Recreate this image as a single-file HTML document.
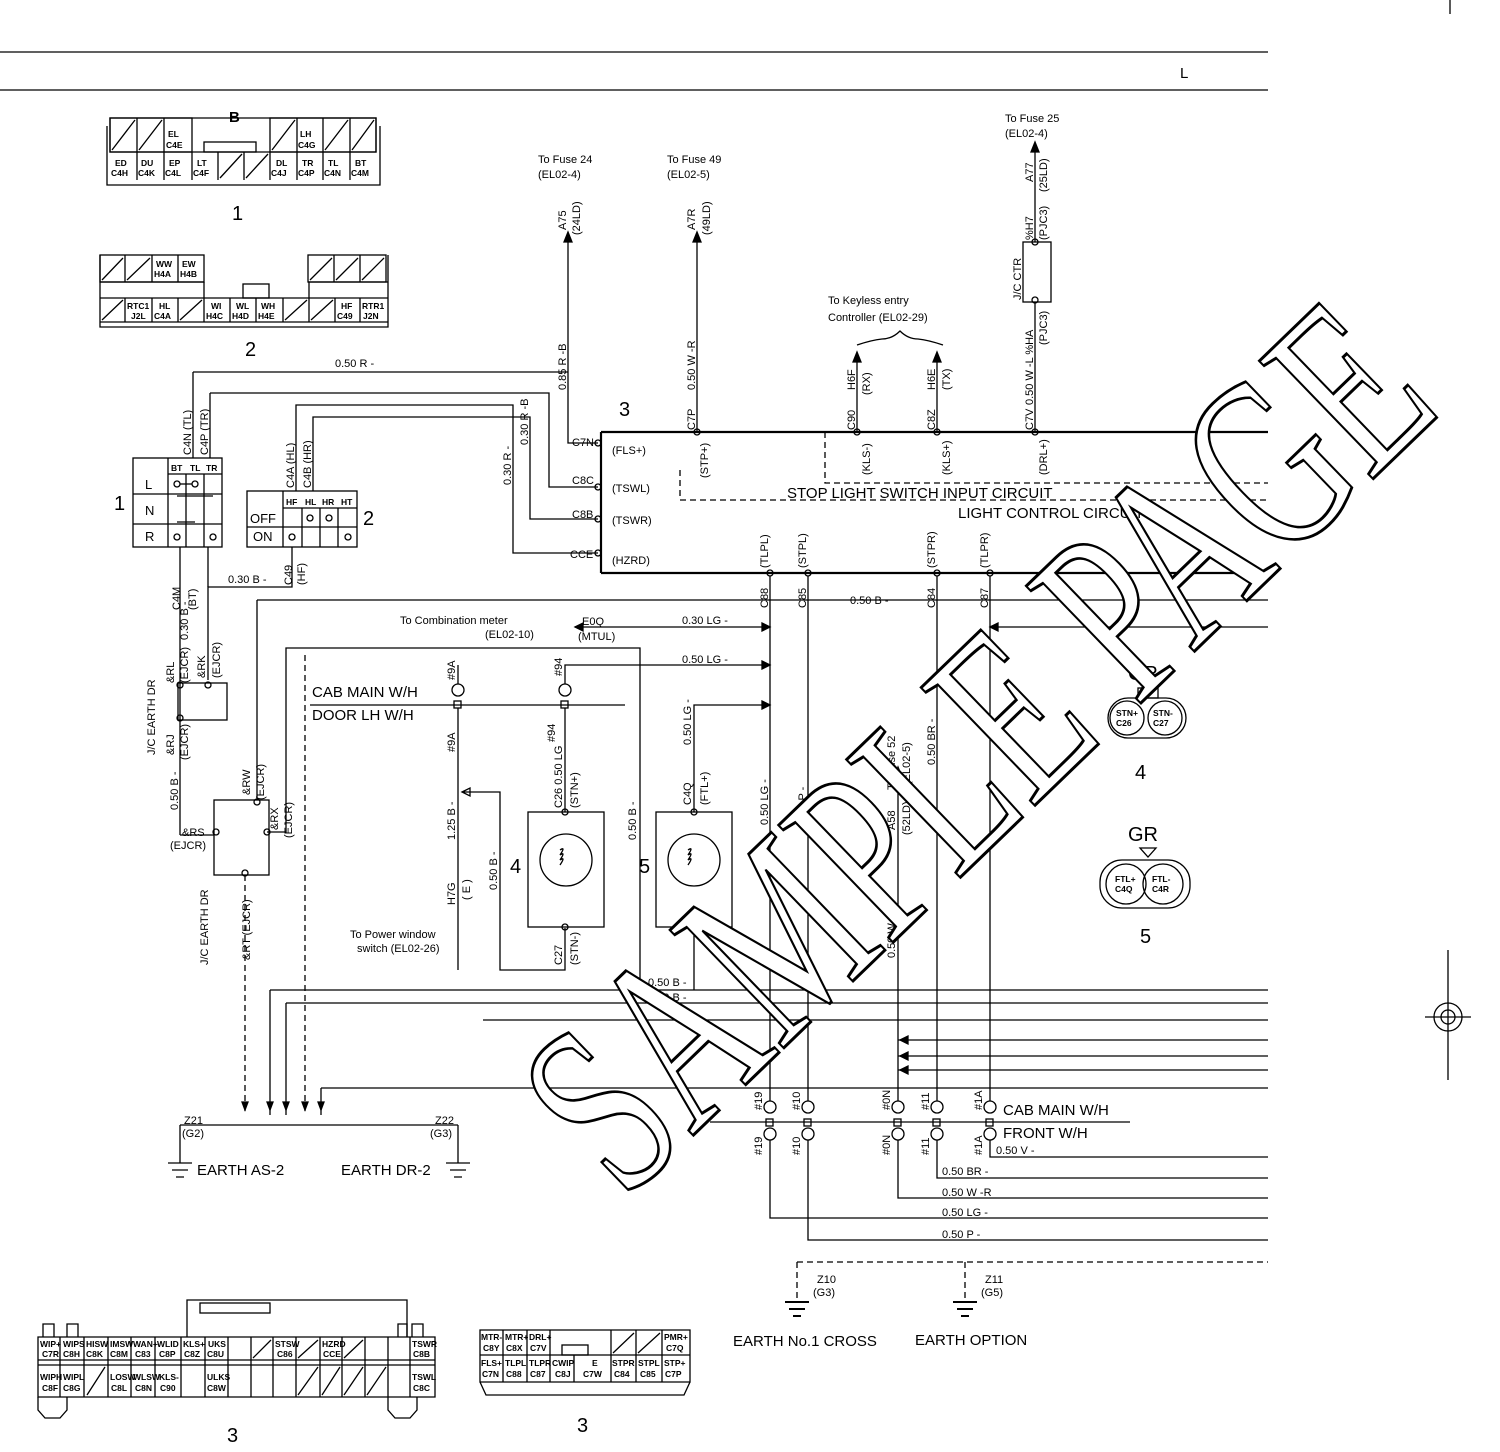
<!DOCTYPE html>
<html><head><meta charset="utf-8"><style>
html,body{margin:0;padding:0;background:#fff}
svg{display:block}
text{font-family:"Liberation Sans",sans-serif;fill:#000}
.s{font-size:11px;font-weight:500}
.t{font-size:8.5px;font-weight:bold}
.m{font-size:15px}
.b{font-size:20px}
</style></head><body>
<svg width="1500" height="1452" viewBox="0 0 1500 1452" xmlns="http://www.w3.org/2000/svg" fill="none" stroke="#000" stroke-width="1.3">
<line x1="0" y1="52" x2="1268" y2="52"/>
<line x1="0" y1="90" x2="1268" y2="90"/>
<line x1="1450" y1="0" x2="1450" y2="14"/>
<text x="1180" y="78" class="m" stroke="none">L</text>

<g>
<text x="229" y="122" class="m" stroke="none" style="font-weight:bold">B</text>
<path d="M110 118 V152 H376 V118 Z M107 126 V185 H380 V126"/>
<rect x="110" y="118" width="82" height="34"/><rect x="270" y="118" width="106" height="34"/>
<path d="M137 118 V180 M164 118 V180 M192 152 V180 M218 152 V180 M244 152 V180 M270 152 V180 M297 118 V180 M323 118 V180 M350 118 V180"/>
<rect x="204" y="142" width="52" height="10"/>
<path d="M112 150 L135 120 M139 150 L162 120 M272 150 L295 120 M325 150 L348 120 M352 150 L374 120 M220 178 L242 154 M246 178 L268 154"/>
<g stroke="none" class="t">
<text x="168" y="137">EL</text><text x="166" y="148">C4E</text>
<text x="300" y="137">LH</text><text x="298" y="148">C4G</text>
<text x="115" y="166">ED</text><text x="111" y="176">C4H</text>
<text x="141" y="166">DU</text><text x="138" y="176">C4K</text>
<text x="169" y="166">EP</text><text x="165" y="176">C4L</text>
<text x="197" y="166">LT</text><text x="193" y="176">C4F</text>
<text x="276" y="166">DL</text><text x="271" y="176">C4J</text>
<text x="302" y="166">TR</text><text x="298" y="176">C4P</text>
<text x="328" y="166">TL</text><text x="324" y="176">C4N</text>
<text x="355" y="166">BT</text><text x="351" y="176">C4M</text>
</g>
<text x="232" y="220" class="b" stroke="none">1</text>
</g>

<g>
<path d="M100 255 V327 H388 V255 M100 282 H204 M308 282 H388 M100 298 H388 M100 322 H388"/>
<rect x="100" y="255" width="104" height="27"/><rect x="308" y="255" width="78" height="27"/>
<path d="M125 255 V282 M152 255 V282 M178 255 V282 M334 255 V282 M360 255 V282"/>
<path d="M125 298 V322 M152 298 V322 M178 298 V322 M204 282 V322 M230 298 V322 M256 298 V322 M283 298 V322 M309 282 V322 M335 298 V322 M360 298 V322"/>
<rect x="243" y="284" width="26" height="14"/>
<path d="M102 280 L123 258 M127 280 L150 258 M310 280 L332 258 M336 280 L358 258 M362 280 L384 258 M102 320 L123 300 M180 320 L202 300 M285 320 L307 300 M311 320 L333 300"/>
<g stroke="none" class="t">
<text x="156" y="267">WW</text><text x="154" y="277">H4A</text>
<text x="182" y="267">EW</text><text x="180" y="277">H4B</text>
<text x="127" y="309">RTC1</text><text x="131" y="319">J2L</text>
<text x="159" y="309">HL</text><text x="154" y="319">C4A</text>
<text x="211" y="309">WI</text><text x="206" y="319">H4C</text>
<text x="236" y="309">WL</text><text x="232" y="319">H4D</text>
<text x="261" y="309">WH</text><text x="258" y="319">H4E</text>
<text x="341" y="309">HF</text><text x="337" y="319">C49</text>
<text x="362" y="309">RTR1</text><text x="363" y="319">J2N</text>
</g>
<text x="245" y="356" class="b" stroke="none">2</text>
</g>

<rect x="133" y="458" width="89" height="89"/>
<path d="M133 494 H222 M133 524 H222 M168 458 V547 M168 474 H222 M186 474 V547 M204 474 V547"/>
<g stroke="none" class="t"><text x="171" y="471">BT</text><text x="190" y="471">TL</text><text x="206" y="471">TR</text></g>
<g stroke="none" style="font-size:13px"><text x="145" y="489">L</text><text x="145" y="515">N</text><text x="145" y="541">R</text></g>
<text x="114" y="510" class="b" stroke="none">1</text>
<circle cx="177" cy="484" r="3"/><circle cx="195" cy="484" r="3"/><line x1="180" y1="484" x2="192" y2="484"/>
<line x1="177" y1="496" x2="213" y2="496"/><line x1="177" y1="522" x2="195" y2="522"/>
<circle cx="177" cy="537" r="3"/><circle cx="213" cy="537" r="3"/>
<path d="M193 372 V458 M210 393 V458 M180 547 V835 M208 547 V587"/>
<line x1="193" y1="372" x2="568" y2="372"/>
<text x="335" y="367" class="s" stroke="none">0.50 R -</text>
<path d="M210 393 H549 V487 H598"/>
<g class="s" stroke="none">
<text transform="translate(191,455) rotate(-90)">C4N (TL)</text>
<text transform="translate(208,455) rotate(-90)">C4P (TR)</text>
<text transform="translate(180,610) rotate(-90)">C4M</text>
<text transform="translate(196,610) rotate(-90)">(BT)</text>
</g>

<rect x="247" y="491" width="110" height="56"/>
<path d="M247 527 H357 M283 491 V547 M283 508 H357 M302 508 V547 M320 508 V547 M338 508 V547"/>
<g stroke="none" class="t"><text x="286" y="505">HF</text><text x="305" y="505">HL</text><text x="322" y="505">HR</text><text x="341" y="505">HT</text></g>
<g stroke="none" style="font-size:13px"><text x="250" y="523">OFF</text><text x="253" y="541">ON</text></g>
<text x="363" y="525" class="b" stroke="none">2</text>
<circle cx="310" cy="518" r="3"/><circle cx="329" cy="518" r="3"/><circle cx="292" cy="537" r="3"/><circle cx="348" cy="537" r="3"/>
<path d="M296 491 V405 H513 V553 H598 M313 491 V417 H530 V519 H598"/>
<g class="s" stroke="none">
<text transform="translate(294,488) rotate(-90)">C4A (HL)</text>
<text transform="translate(311,488) rotate(-90)">C4B (HR)</text>
<text transform="translate(292,585) rotate(-90)">C49</text>
<text transform="translate(305,585) rotate(-90)">(HF)</text>
<text transform="translate(511,485) rotate(-90)">0.30 R -</text>
<text transform="translate(528,445) rotate(-90)">0.30 R -B</text>
</g>
<path d="M292 547 V587 H208 V680 M257 600 V800"/>
<text x="228" y="583" class="s" stroke="none">0.30 B -</text>

<rect x="178" y="683" width="49" height="37"/>
<circle cx="180" cy="685" r="3"/><circle cx="208" cy="685" r="3"/><circle cx="180" cy="718" r="3"/>
<g class="s" stroke="none">
<text transform="translate(188,640) rotate(-90)">0.30 B -</text>
<text transform="translate(174,683) rotate(-90)">&amp;RL</text>
<text transform="translate(188,683) rotate(-90)">(EJCR)</text>
<text transform="translate(205,678) rotate(-90)">&amp;RK</text>
<text transform="translate(220,678) rotate(-90)">(EJCR)</text>
<text transform="translate(155,755) rotate(-90)">J/C EARTH DR</text>
<text transform="translate(174,755) rotate(-90)">&amp;RJ</text>
<text transform="translate(188,760) rotate(-90)">(EJCR)</text>
<text transform="translate(178,810) rotate(-90)">0.50 B -</text>
<text x="182" y="836">&amp;RS</text><text x="170" y="849">(EJCR)</text>
</g>
<rect x="214" y="800" width="55" height="75"/>
<circle cx="216" cy="832" r="3"/><circle cx="257" cy="802" r="3"/><circle cx="267" cy="832" r="3"/><circle cx="245" cy="873" r="3"/>
<path d="M180 835 H214 M267 832 H286 V648 H640 V990"/>
<g class="s" stroke="none">
<text transform="translate(250,795) rotate(-90)">&amp;RW</text>
<text transform="translate(264,800) rotate(-90)">(EJCR)</text>
<text transform="translate(278,830) rotate(-90)">&amp;RX</text>
<text transform="translate(292,838) rotate(-90)">(EJCR)</text>
<text transform="translate(208,965) rotate(-90)">J/C EARTH DR</text>
<text transform="translate(250,960) rotate(-90)">&amp;RT (EJCR)</text>
</g>
<path d="M245 875 V1115 M305 655 V1115" stroke-dasharray="6,4"/>
<path d="M270 990 V1115 M286 1003 V1115 M321 1088 V1115"/>
<path d="M245 1110 l-3-8 h6 z M270 1110 l-3-8 h6 z M286 1110 l-3-8 h6 z M305 1110 l-3-8 h6 z M321 1110 l-3-8 h6 z" fill="#000"/>
<line x1="180" y1="1125" x2="458" y2="1125"/>
<path d="M180 1125 V1163 M458 1125 V1163"/>
<path d="M168 1163 H192 M172 1170 H188 M176 1177 H184 M446 1163 H470 M450 1170 H466 M454 1177 H462"/>
<g class="s" stroke="none"><text x="184" y="1124">Z21</text><text x="182" y="1137">(G2)</text><text x="435" y="1124">Z22</text><text x="430" y="1137">(G3)</text></g>
<g class="m" stroke="none"><text x="197" y="1175">EARTH  AS-2</text><text x="341" y="1175">EARTH  DR-2</text></g>

<path d="M270 990 H1268 M286 1003 H1268 M483 1020 H1268 M1268 1040 H898 M1268 1056 H898 M1268 1070 H898 M321 1088 H1268"/>
<path d="M900 1040 l8 -4 v8 z M900 1056 l8 -4 v8 z M900 1070 l8 -4 v8 z" fill="#000"/>
<g class="s" stroke="none"><text x="648" y="986">0.50 B -</text><text x="648" y="1001">0.50 B -</text></g>

<path d="M310 705 H625"/>
<g class="m" stroke="none"><text x="312" y="697">CAB MAIN W/H</text><text x="312" y="720">DOOR LH W/H</text></g>
<circle cx="458" cy="690" r="6"/><rect x="454" y="701" width="7" height="7"/>
<circle cx="565" cy="690" r="6"/><rect x="561" y="701" width="7" height="7"/>
<path d="M458 684 V665 M458 708 V970 M565 684 V665 H770 M565 708 V812"/>
<path d="M770 665 l-8 -4 v8 z" fill="#000"/>
<path d="M462 792 H500 V970 H565 V928 M462 792 l8 -4 v8 z"/>
<g class="s" stroke="none">
<text transform="translate(455,680) rotate(-90)">#9A</text>
<text transform="translate(455,752) rotate(-90)">#9A</text>
<text transform="translate(562,676) rotate(-90)">#94</text>
<text transform="translate(555,742) rotate(-90)">#94</text>
<text transform="translate(455,840) rotate(-90)">1.25 B -</text>
<text transform="translate(497,890) rotate(-90)">0.50 B -</text>
<text transform="translate(455,905) rotate(-90)">H7G</text>
<text transform="translate(470,900) rotate(-90)">( E )</text>
<text x="350" y="938">To Power window</text><text x="357" y="952">switch (EL02-26)</text>
<text transform="translate(562,808) rotate(-90)">C26 0.50 LG</text>
<text transform="translate(578,808) rotate(-90)">(STN+)</text>
<text transform="translate(562,965) rotate(-90)">C27</text>
<text transform="translate(578,965) rotate(-90)">(STN-)</text>
<text transform="translate(636,840) rotate(-90)">0.50 B -</text>
<text transform="translate(691,745) rotate(-90)">0.50 LG -</text>
<text transform="translate(691,805) rotate(-90)">C4Q</text>
<text transform="translate(708,805) rotate(-90)">(FTL+)</text>
</g>
<rect x="528" y="812" width="76" height="115"/><circle cx="566" cy="860" r="26"/>
<path d="M560 850 q6 -4 0 5 q6 -4 0 5 q6 -4 0 5"/>
<circle cx="565" cy="812" r="3"/><circle cx="565" cy="927" r="3"/>
<text x="510" y="873" class="b" stroke="none">4</text>
<rect x="656" y="812" width="76" height="115"/><circle cx="694" cy="860" r="26"/>
<path d="M688 850 q6 -4 0 5 q6 -4 0 5 q6 -4 0 5"/>
<circle cx="694" cy="812" r="3"/>
<text x="639" y="873" class="b" stroke="none">5</text>
<path d="M694 812 V705 H770 M694 927 V990"/>
<path d="M770 705 l-8 -4 v8 z" fill="#000"/>

<path d="M575 627 H770 M990 627 H1268"/>
<path d="M575 627 l8 -4 v8 z M770 627 l-8 -4 v8 z M990 627 l8 -4 v8 z" fill="#000"/>
<g class="s" stroke="none">
<text x="400" y="624">To Combination meter</text><text x="485" y="638">(EL02-10)</text>
<text x="582" y="625">E0Q</text><text x="578" y="640">(MTUL)</text>
<text x="682" y="624">0.30 LG -</text><text x="682" y="663">0.50 LG -</text>
</g>

<path d="M601 432 H1268 M601 573 H1268 M601 432 V573" stroke-width="2.2"/>
<text x="619" y="416" class="b" stroke="none">3</text>
<circle cx="598" cy="443" r="3"/><circle cx="598" cy="487" r="3"/><circle cx="598" cy="519" r="3"/><circle cx="598" cy="553" r="3"/>
<g class="s" stroke="none">
<text x="572" y="446">C7N</text><text x="612" y="454">(FLS+)</text>
<text x="572" y="484">C8C</text><text x="612" y="492">(TSWL)</text>
<text x="572" y="518">C8B</text><text x="612" y="524">(TSWR)</text>
<text x="570" y="558">CCE</text><text x="612" y="564">(HZRD)</text>
</g>
<path d="M568 240 V443 H598"/>
<path d="M568 232 l-4 10 h8 z" fill="#000"/>
<path d="M697 240 V432"/><path d="M697 232 l-4 10 h8 z" fill="#000"/>
<circle cx="697" cy="432" r="3"/><circle cx="857" cy="432" r="3"/><circle cx="937" cy="432" r="3"/><circle cx="1035" cy="432" r="3"/>
<path d="M857 432 V360 M937 432 V360 M1035 432 V302"/>
<path d="M857 352 l-4 10 h8 z M937 352 l-4 10 h8 z" fill="#000"/>
<path d="M857 345 q15 -5 25 -6 q10 0 18 -8 q8 8 18 8 q10 1 25 6"/>
<g class="s" stroke="none">
<text x="538" y="163">To Fuse 24</text><text x="538" y="178">(EL02-4)</text>
<text x="667" y="163">To Fuse 49</text><text x="667" y="178">(EL02-5)</text>
<text transform="translate(566,230) rotate(-90)">A75</text>
<text transform="translate(580,235) rotate(-90)">(24LD)</text>
<text transform="translate(695,230) rotate(-90)">A7R</text>
<text transform="translate(710,235) rotate(-90)">(49LD)</text>
<text transform="translate(566,390) rotate(-90)">0.85 R -B</text>
<text transform="translate(695,390) rotate(-90)">0.50 W -R</text>
<text transform="translate(695,430) rotate(-90)">C7P</text>
<text transform="translate(708,478) rotate(-90)">(STP+)</text>
<text x="828" y="304">To Keyless entry</text><text x="828" y="321">Controller (EL02-29)</text>
<text transform="translate(855,390) rotate(-90)">H6F</text>
<text transform="translate(870,395) rotate(-90)">(RX)</text>
<text transform="translate(935,390) rotate(-90)">H6E</text>
<text transform="translate(950,390) rotate(-90)">(TX)</text>
<text transform="translate(855,430) rotate(-90)">C90</text>
<text transform="translate(870,475) rotate(-90)">(KLS-)</text>
<text transform="translate(935,430) rotate(-90)">C8Z</text>
<text transform="translate(950,475) rotate(-90)">(KLS+)</text>
<text transform="translate(1033,430) rotate(-90)">C7V</text>
<text transform="translate(1047,475) rotate(-90)">(DRL+)</text>
<text transform="translate(1033,405) rotate(-90)">0.50 W -L %HA</text>
<text transform="translate(1047,345) rotate(-90)">(PJC3)</text>
<text transform="translate(1033,240) rotate(-90)">%H7</text>
<text transform="translate(1047,240) rotate(-90)">(PJC3)</text>
<text transform="translate(1033,182) rotate(-90)">A77</text>
<text transform="translate(1047,192) rotate(-90)">(25LD)</text>
<text x="1005" y="122">To Fuse 25</text><text x="1005" y="137">(EL02-4)</text>
<text transform="translate(1021,300) rotate(-90)">J/C CTR</text>
</g>
<rect x="1023" y="242" width="28" height="60"/>
<circle cx="1035" cy="242" r="3"/><circle cx="1035" cy="300" r="3"/>
<path d="M1035 242 V150"/><path d="M1035 142 l-4 10 h8 z" fill="#000"/>
<path d="M680 470 V500 H1268 M825 432 V483 H1268" stroke-dasharray="6,4"/>
<g class="m" stroke="none"><text x="787" y="498">STOP LIGHT SWITCH INPUT CIRCUIT</text><text x="958" y="518">LIGHT CONTROL CIRCUIT</text></g>

<circle cx="770" cy="573" r="3"/><circle cx="808" cy="573" r="3"/><circle cx="937" cy="573" r="3"/><circle cx="990" cy="573" r="3"/>
<path d="M770 576 V1101 M808 576 V1101 M937 576 V1101 M990 576 V1101 M898 775 V1101"/>
<path d="M257 600 H1268"/>
<text x="850" y="604" class="s" stroke="none">0.50 B -</text>
<g class="s" stroke="none">
<text transform="translate(768,568) rotate(-90)">(TLPL)</text>
<text transform="translate(806,568) rotate(-90)">(STPL)</text>
<text transform="translate(935,568) rotate(-90)">(STPR)</text>
<text transform="translate(988,568) rotate(-90)">(TLPR)</text>
<text transform="translate(768,608) rotate(-90)">C88</text>
<text transform="translate(806,608) rotate(-90)">C85</text>
<text transform="translate(935,608) rotate(-90)">C84</text>
<text transform="translate(988,608) rotate(-90)">C87</text>
<text transform="translate(768,825) rotate(-90)">0.50 LG -</text>
<text transform="translate(806,825) rotate(-90)">0.50 P -</text>
<text transform="translate(935,765) rotate(-90)">0.50 BR -</text>
<text transform="translate(895,958) rotate(-90)">0.50 W -R</text>
<text transform="translate(895,790) rotate(-90)">To Fuse 52</text>
<text transform="translate(910,785) rotate(-90)">(EL02-5)</text>
<text transform="translate(895,830) rotate(-90)">A58</text>
<text transform="translate(910,835) rotate(-90)">(52LD)</text>
</g>
<path d="M898 767 l-4 10 h8 z" fill="#000"/>

<path d="M710 1122 H1130"/>
<g>
<circle cx="770" cy="1107" r="6"/><rect x="766" y="1119" width="7" height="7"/><circle cx="770" cy="1134" r="6"/>
<circle cx="808" cy="1107" r="6"/><rect x="804" y="1119" width="7" height="7"/><circle cx="808" cy="1134" r="6"/>
<circle cx="898" cy="1107" r="6"/><rect x="894" y="1119" width="7" height="7"/><circle cx="898" cy="1134" r="6"/>
<circle cx="937" cy="1107" r="6"/><rect x="933" y="1119" width="7" height="7"/><circle cx="937" cy="1134" r="6"/>
<circle cx="990" cy="1107" r="6"/><rect x="986" y="1119" width="7" height="7"/><circle cx="990" cy="1134" r="6"/>
</g>
<g class="s" stroke="none">
<text transform="translate(762,1110) rotate(-90)">#19</text><text transform="translate(762,1155) rotate(-90)">#19</text>
<text transform="translate(800,1110) rotate(-90)">#10</text><text transform="translate(800,1155) rotate(-90)">#10</text>
<text transform="translate(890,1110) rotate(-90)">#0N</text><text transform="translate(890,1155) rotate(-90)">#0N</text>
<text transform="translate(929,1110) rotate(-90)">#11</text><text transform="translate(929,1155) rotate(-90)">#11</text>
<text transform="translate(982,1110) rotate(-90)">#1A</text><text transform="translate(982,1155) rotate(-90)">#1A</text>
</g>
<g class="m" stroke="none"><text x="1003" y="1115">CAB MAIN W/H</text><text x="1003" y="1138">FRONT W/H</text></g>
<path d="M990 1140 V1157 H1268 M937 1140 V1178 H1268 M898 1140 V1198 H1268 M770 1140 V1218 H1268 M808 1140 V1240 H1268"/>
<g class="s" stroke="none">
<text x="996" y="1154">0.50 V -</text><text x="942" y="1175">0.50 BR -</text><text x="942" y="1196">0.50 W -R</text><text x="942" y="1216">0.50 LG -</text><text x="942" y="1238">0.50 P -</text>
</g>
<path d="M797 1262 H1268 M797 1262 V1300 M965 1262 V1300" stroke-dasharray="6,4"/>
<path d="M785 1302 H809 M789 1309 H805 M793 1316 H801 M953 1302 H977 M957 1309 H973 M961 1316 H969" stroke-width="2"/>
<g class="s" stroke="none"><text x="817" y="1283">Z10</text><text x="813" y="1296">(G3)</text><text x="985" y="1283">Z11</text><text x="981" y="1296">(G5)</text></g>
<g class="m" stroke="none"><text x="733" y="1346">EARTH  No.1 CROSS</text><text x="915" y="1345">EARTH  OPTION</text></g>

<text x="1128" y="680" class="b" stroke="none">GR</text>
<rect x="1138" y="688" width="20" height="10"/>
<rect x="1108" y="698" width="78" height="40" rx="20"/>
<circle cx="1127" cy="718" r="17"/><circle cx="1165" cy="718" r="17"/>
<g class="t" stroke="none"><text x="1116" y="716">STN+</text><text x="1116" y="726">C26</text><text x="1153" y="716">STN-</text><text x="1153" y="726">C27</text></g>
<text x="1135" y="779" class="b" stroke="none">4</text>
<text x="1128" y="841" class="b" stroke="none">GR</text>
<path d="M1140 848 h16 l-8 9 z"/>
<rect x="1100" y="860" width="90" height="48" rx="22"/>
<circle cx="1126" cy="884" r="20"/><circle cx="1163" cy="884" r="20"/>
<g class="t" stroke="none"><text x="1115" y="882">FTL+</text><text x="1115" y="892">C4Q</text><text x="1152" y="882">FTL-</text><text x="1152" y="892">C4R</text></g>
<text x="1140" y="943" class="b" stroke="none">5</text>

<circle cx="1448" cy="1017" r="14"/><circle cx="1448" cy="1017" r="7"/>
<path d="M1425 1017 H1471 M1448 950 V1080" />

<g>
<path d="M38 1337 H435 V1397 H38 Z M38 1360 H435 M38 1365 H435 M187 1337 V1300 H407 V1337"/>
<rect x="200" y="1303" width="70" height="10"/>
<path d="M43 1337 V1324 H54 V1337 M67 1337 V1324 H78 V1337 M398 1337 V1324 H407 V1337 M412 1337 V1324 H423 V1337"/>
<path d="M60 1337 V1397 M84 1337 V1397 M108 1337 V1397 M131 1337 V1397 M155 1337 V1397 M181 1337 V1397 M205 1337 V1397 M228 1337 V1397 M251 1337 V1397 M273 1337 V1397 M296 1337 V1397 M320 1337 V1397 M342 1337 V1397 M365 1337 V1397 M388 1337 V1397 M410 1337 V1397"/>
<path d="M38 1397 V1410 L45 1418 H60 L67 1410 V1397 M388 1397 V1410 L395 1418 H410 L417 1410 V1397"/>
<path d="M87 1395 L105 1367 M253 1358 L271 1340 M298 1395 L318 1367 M322 1395 L340 1367 M344 1395 L363 1367 M298 1358 L318 1340 M344 1358 L363 1340 M367 1395 L386 1367"/>
<g class="t" stroke="none">
<text x="40" y="1347">WIP+</text><text x="42" y="1357">C7R</text>
<text x="63" y="1347">WIPS</text><text x="63" y="1357">C8H</text>
<text x="86" y="1347">HISW</text><text x="86" y="1357">C8K</text>
<text x="110" y="1347">IMSW</text><text x="110" y="1357">C8M</text>
<text x="133" y="1347">WAN+</text><text x="135" y="1357">C83</text>
<text x="157" y="1347">WLID</text><text x="159" y="1357">C8P</text>
<text x="183" y="1347">KLS+</text><text x="184" y="1357">C8Z</text>
<text x="208" y="1347">UKS</text><text x="207" y="1357">C8U</text>
<text x="275" y="1347">STSW</text><text x="277" y="1357">C86</text>
<text x="322" y="1347">HZRD</text><text x="323" y="1357">CCE</text>
<text x="412" y="1347">TSWR</text><text x="413" y="1357">C8B</text>
<text x="40" y="1380">WIPH</text><text x="42" y="1391">C8F</text>
<text x="63" y="1380">WIPL</text><text x="63" y="1391">C8G</text>
<text x="110" y="1380">LOSW</text><text x="111" y="1391">C8L</text>
<text x="133" y="1380">WLSW</text><text x="135" y="1391">C8N</text>
<text x="159" y="1380">KLS-</text><text x="160" y="1391">C90</text>
<text x="207" y="1380">ULKS</text><text x="207" y="1391">C8W</text>
<text x="412" y="1380">TSWL</text><text x="413" y="1391">C8C</text>
</g>
<text x="227" y="1442" class="b" stroke="none">3</text>
</g>
<g>
<path d="M480 1330 H690 V1382 H480 Z M480 1355 H690 M480 1382 L486 1395 H684 L690 1382"/>
<rect x="562" y="1345" width="26" height="10"/>
<path d="M503 1330 V1382 M527 1330 V1382 M550 1330 V1382 M574 1355 V1382 M611 1330 V1382 M636 1330 V1382 M662 1330 V1382"/>
<path d="M613 1353 L634 1333 M638 1353 L660 1333"/>
<g class="t" stroke="none">
<text x="481" y="1340">MTR-</text><text x="483" y="1351">C8Y</text>
<text x="505" y="1340">MTR+</text><text x="506" y="1351">C8X</text>
<text x="529" y="1340">DRL+</text><text x="530" y="1351">C7V</text>
<text x="664" y="1340">PMR+</text><text x="666" y="1351">C7Q</text>
<text x="481" y="1366">FLS+</text><text x="482" y="1377">C7N</text>
<text x="505" y="1366">TLPL</text><text x="506" y="1377">C88</text>
<text x="529" y="1366">TLPR</text><text x="530" y="1377">C87</text>
<text x="552" y="1366">CWIP</text><text x="555" y="1377">C8J</text>
<text x="592" y="1366">E</text><text x="583" y="1377">C7W</text>
<text x="612" y="1366">STPR</text><text x="614" y="1377">C84</text>
<text x="638" y="1366">STPL</text><text x="640" y="1377">C85</text>
<text x="664" y="1366">STP+</text><text x="665" y="1377">C7P</text>
</g>
<text x="577" y="1432" class="b" stroke="none">3</text>
</g>

<text x="0" y="0" transform="translate(975,745) rotate(-44)" text-anchor="middle" textLength="1140" lengthAdjust="spacingAndGlyphs" style="font-family:'Liberation Serif',serif;font-size:250px;fill:#fff;stroke:#000;stroke-width:3" dy="85">SAMPLE PAGE</text>
</svg>
</body></html>
